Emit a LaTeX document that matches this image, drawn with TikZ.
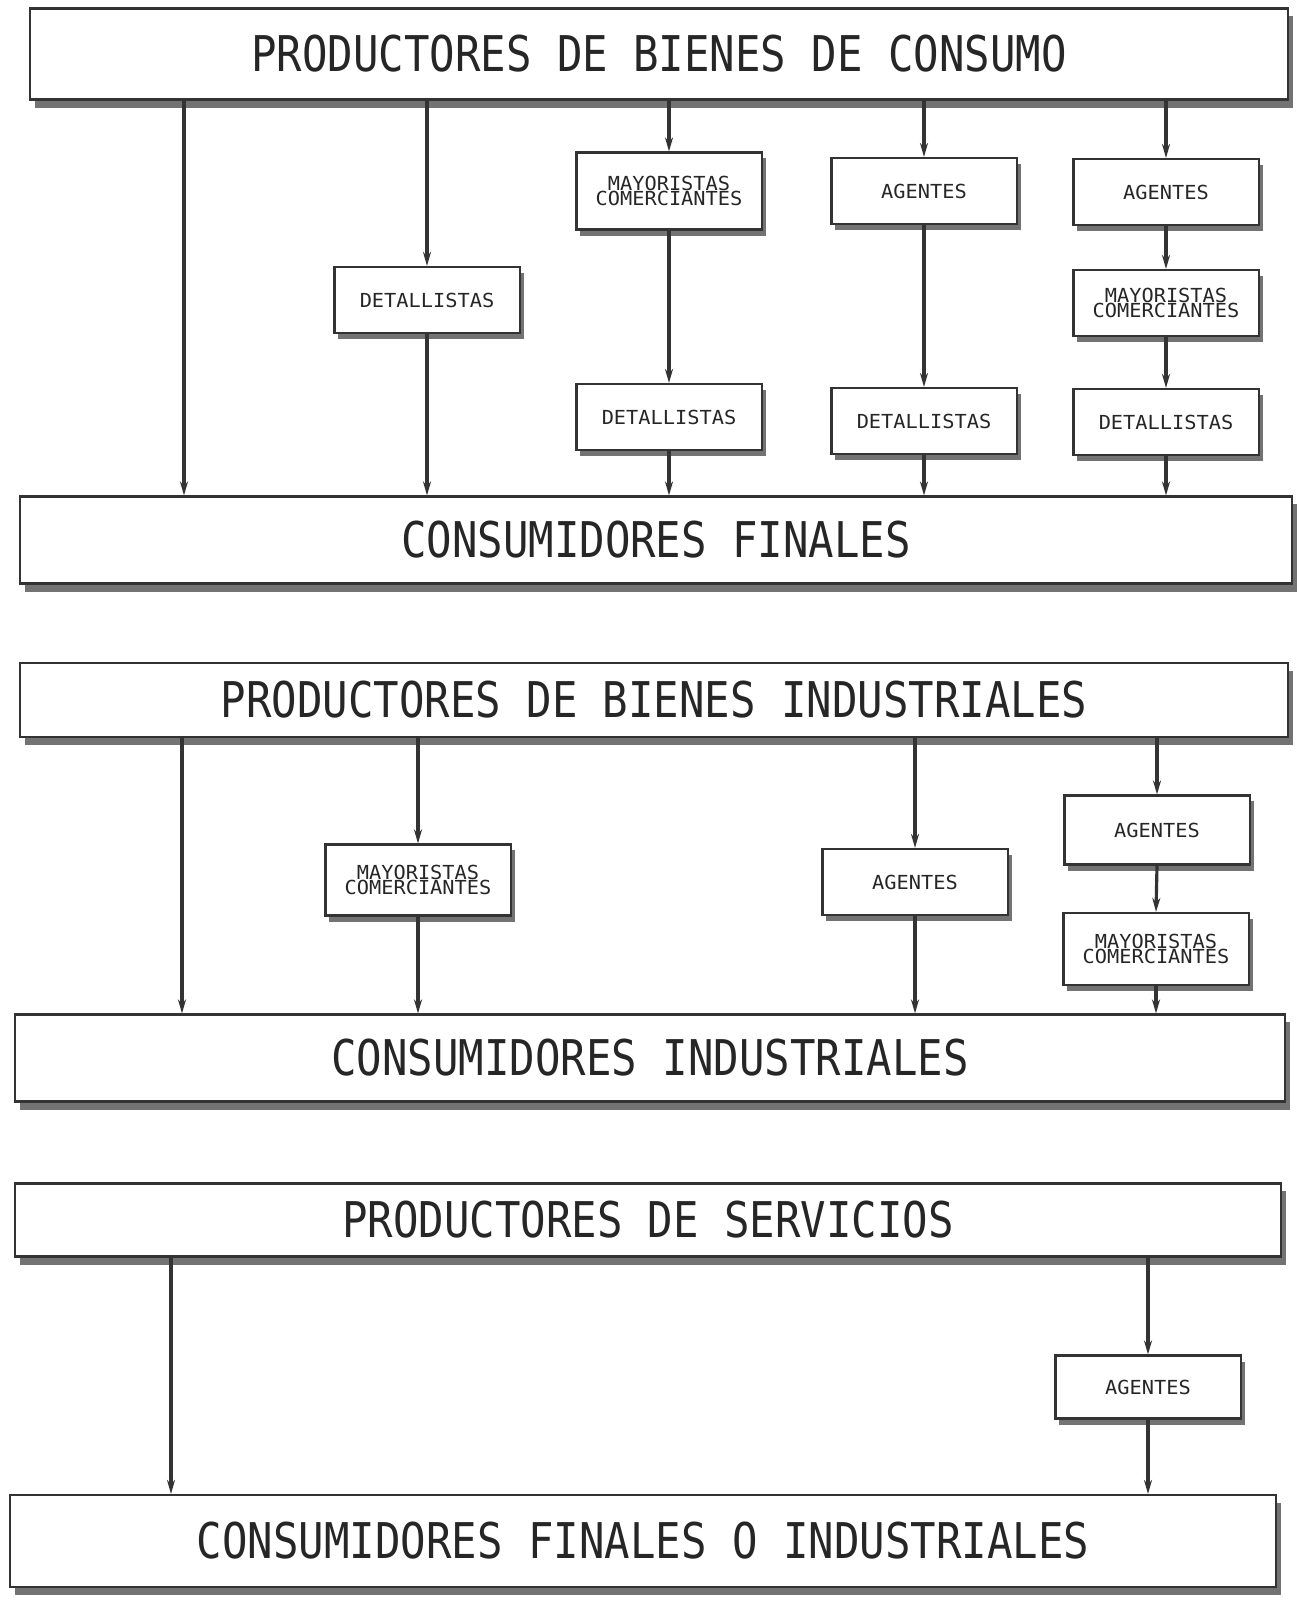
\documentclass[tikz,border=0pt]{standalone}
\usepackage{fontspec}
\usetikzlibrary{arrows.meta,shadows}
\newfontfamily\pixbig[FakeStretch=0.86]{DejaVu Sans Mono}
\newfontfamily\pixsmall[FakeStretch=1.05]{DejaVu Sans Mono}
\tikzset{
  bigbox/.style={draw=black!80, line width=0.6pt, fill=white, minimum width=12.65cm, minimum height=0.88cm,
    inner sep=0pt, text=black!85, font=\pixbig\fontsize{14}{16}\selectfont,
    drop shadow={shadow xshift=0.05cm, shadow yshift=-0.08cm, fill=black!55, opacity=1}},
  chbox/.style={draw=black!80, line width=0.6pt, fill=white, minimum width=1.85cm, minimum height=0.66cm,
    inner sep=0pt, align=center, text=black!85, font=\pixsmall\fontsize{5.5}{4.4}\selectfont,
    drop shadow={shadow xshift=0.04cm, shadow yshift=-0.06cm, fill=black!55, opacity=1}},
  arr/.style={->, line width=0.9pt, draw=black!80}
}
\begin{document}
\begin{tikzpicture}[x=0.01cm, y=-0.01cm, >={Stealth[length=0.14cm,width=0.08cm]}]
	\useasboundingbox (0,0) rectangle (1300,1600);
	% bienes de consumo
	\node[bigbox, minimum width=12.57cm, minimum height=0.91cm] (pbc) at (659,54) {PRODUCTORES DE BIENES DE CONSUMO};
	\node[bigbox, minimum width=12.71cm, minimum height=0.87cm] (cf) at (656,540) {CONSUMIDORES FINALES};
	\node[chbox] (det1) at (427,300) {DETALLISTAS};
	\node[chbox, minimum height=0.77cm] (may1) at (669,191) {MAYORISTAS\\COMERCIANTES};
	\node[chbox] (det2) at (669,417) {DETALLISTAS};
	\node[chbox] (age1) at (924,191) {AGENTES};
	\node[chbox] (det3) at (924,421) {DETALLISTAS};
	\node[chbox] (age2) at (1166,192) {AGENTES};
	\node[chbox] (may2) at (1166,303) {MAYORISTAS\\COMERCIANTES};
	\node[chbox] (det4) at (1166,422) {DETALLISTAS};
	\coordinate (k1) at (184,0);
	\draw[arr] (pbc.south -| k1) -- (cf.north -| k1);
	\draw[arr] (pbc.south -| det1.north) -- (det1.north);
	\draw[arr] (det1.south) -- (cf.north -| det1.south);
	\draw[arr] (pbc.south -| may1.north) -- (may1.north);
	\draw[arr] (may1.south) -- (det2.north);
	\draw[arr] (det2.south) -- (cf.north -| det2.south);
	\draw[arr] (pbc.south -| age1.north) -- (age1.north);
	\draw[arr] (age1.south) -- (det3.north);
	\draw[arr] (det3.south) -- (cf.north -| det3.south);
	\draw[arr] (pbc.south -| age2.north) -- (age2.north);
	\draw[arr] (age2.south) -- (may2.north);
	\draw[arr] (may2.south) -- (det4.north);
	\draw[arr] (det4.south) -- (cf.north -| det4.south);
	% bienes industriales
	\node[bigbox, minimum width=12.68cm, minimum height=0.74cm] (pbi) at (654,700) {PRODUCTORES DE BIENES INDUSTRIALES};
	\node[bigbox, minimum width=12.69cm, minimum height=0.87cm] (ci) at (650,1058) {CONSUMIDORES INDUSTRIALES};
	\node[chbox, minimum height=0.71cm] (may3) at (418,880) {MAYORISTAS\\COMERCIANTES};
	\node[chbox] (age3) at (915,882) {AGENTES};
	\node[chbox, minimum height=0.69cm] (age4) at (1157,830) {AGENTES};
	\node[chbox, minimum height=0.72cm] (may4) at (1156,949) {MAYORISTAS\\COMERCIANTES};
	\coordinate (k2) at (182,0);
	\draw[arr] (pbi.south -| k2) -- (ci.north -| k2);
	\draw[arr] (pbi.south -| may3.north) -- (may3.north);
	\draw[arr] (may3.south) -- (ci.north -| may3.south);
	\draw[arr] (pbi.south -| age3.north) -- (age3.north);
	\draw[arr] (age3.south) -- (ci.north -| age3.south);
	\draw[arr] (pbi.south -| age4.north) -- (age4.north);
	\draw[arr] (age4.south) -- (may4.north);
	\draw[arr] (may4.south) -- (ci.north -| may4.south);
	% servicios
	\node[bigbox, minimum width=12.66cm, minimum height=0.73cm] (ps) at (648,1220) {PRODUCTORES DE SERVICIOS};
	\node[bigbox, minimum width=12.66cm, minimum height=0.92cm] (cfi) at (643,1541) {CONSUMIDORES FINALES O INDUSTRIALES};
	\node[chbox, minimum height=0.63cm] (age5) at (1148,1387) {AGENTES};
	\coordinate (k3) at (171,0);
	\draw[arr] (ps.south -| k3) -- (cfi.north -| k3);
	\draw[arr] (ps.south -| age5.north) -- (age5.north);
	\draw[arr] (age5.south) -- (cfi.north -| age5.south);
\end{tikzpicture}
\end{document}
